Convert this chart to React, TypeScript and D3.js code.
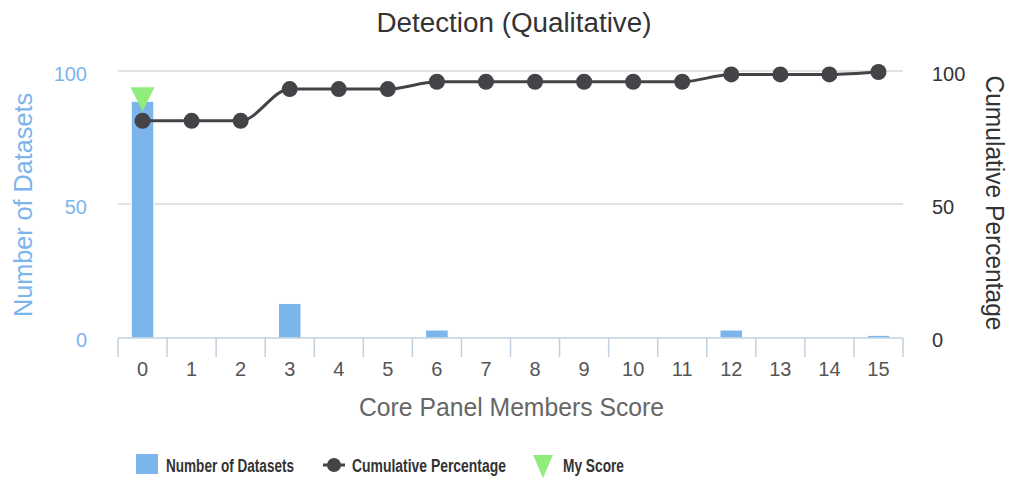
import React from 'react'
import * as d3 from 'd3'

const scores = ['0', '1', '2', '3', '4', '5', '6', '7', '8', '9', '10', '11', '12', '13', '14', '15']
const datasetCounts = [89, 0, 0, 13, 0, 0, 3, 0, 0, 0, 0, 0, 3, 0, 0, 1]
const myScore = '0'
const leftTicks = [0, 50, 100]
const rightTicks = [0, 50, 100]

const W = 1009
const H = 480
const margin = { top: 72, right: 106, bottom: 142, left: 118 }

export default function App() {
  const plotW = W - margin.left - margin.right
  const plotH = H - margin.top - margin.bottom

  const total = d3.sum(datasetCounts)
  // 累計百分比
  const cumulative: number[] = Array.from(d3.cumsum(datasetCounts), v => (v / total) * 100)

  const x = d3.scaleBand().domain(scores).range([0, plotW]).padding(0)
  const yLeft = d3.scaleLinear().domain([0, 100]).range([plotH, 0])
  const yRight = d3.scaleLinear().domain([0, 100]).range([plotH, 0])

  const barW = x.bandwidth() * 0.46
  const cx = (s: string) => x(s)! + x.bandwidth() / 2

  const line = d3
    .line<number>()
    .x((_, i) => cx(scores[i]))
    .y(d => yRight(d))
    .curve(d3.curveMonotoneX)

  const myIdx = scores.indexOf(myScore)
  const triY = yLeft(datasetCounts[myIdx]) - 2
  const tri = (cxv: number, cy: number, w: number, h: number) =>
    `M${cxv - w / 2},${cy - h / 2}L${cxv + w / 2},${cy - h / 2}L${cxv},${cy + h / 2}Z`

  const font = '"Liberation Sans", Arial, sans-serif'

  return (
    <svg width={W} height={H} style={{ position: 'absolute', left: 0, top: 0 }} fontFamily={font}>
      <rect width={W} height={H} fill="#fff" />
      <text x={514} y={32} textAnchor="middle" fontSize={27} fill="#333" textLength={275} lengthAdjust="spacingAndGlyphs">
        Detection (Qualitative)
      </text>

      <g transform={`translate(${margin.left},${margin.top})`}>
        {/* grid */}
        {leftTicks.filter(t => t > 0).map(t => (
          <line key={t} x1={0} x2={plotW} y1={yLeft(t) - 1} y2={yLeft(t) - 1} stroke="#d8d8d8" strokeWidth={1.5} />
        ))}

        {/* bars */}
        {scores.map((s, i) =>
          datasetCounts[i] > 0 ? (
            <rect
              key={s}
              x={cx(s) - barW / 2}
              y={yLeft(datasetCounts[i])}
              width={barW}
              height={plotH - yLeft(datasetCounts[i])}
              fill="#7cb5ec"
              stroke="#fff"
              strokeWidth={1}
            />
          ) : null
        )}

        {/* x axis */}
        <line x1={0} x2={plotW} y1={plotH} y2={plotH} stroke="#c0d0e0" strokeWidth={1.5} />
        {scores.map(s => (
          <line key={s} x1={x(s)!} x2={x(s)!} y1={plotH} y2={plotH + 19} stroke="#c0d0e0" strokeWidth={1.5} />
        ))}
        <line x1={plotW} x2={plotW} y1={plotH} y2={plotH + 19} stroke="#c0d0e0" strokeWidth={1.5} />
        {scores.map(s => (
          <text key={s} x={cx(s)} y={plotH + 38} textAnchor="middle" fontSize={20} fill="#555">
            {s}
          </text>
        ))}
        <text x={plotW / 2 + 1} y={plotH + 78} textAnchor="middle" fontSize={25} fill="#666" textLength={305} lengthAdjust="spacingAndGlyphs">
          Core Panel Members Score
        </text>

        {/* left axis */}
        {leftTicks.map(t => (
          <text key={t} x={-31} y={yLeft(t) + 9} textAnchor="end" fontSize={20} fill="#7cb5ec">
            {t}
          </text>
        ))}
        <text
          transform={`translate(${32 - margin.left},${205 - margin.top}) rotate(-90)`}
          textAnchor="middle"
          fontSize={25}
          fill="#7cb5ec"
          textLength={224}
          lengthAdjust="spacingAndGlyphs"
        >
          Number of Datasets
        </text>

        {/* right axis */}
        {rightTicks.map(t => (
          <text key={t} x={plotW + 29} y={yRight(t) + 9} textAnchor="start" fontSize={20} fill="#333">
            {t}
          </text>
        ))}
        <text
          transform={`translate(${986 - margin.left},${203 - margin.top}) rotate(90)`}
          textAnchor="middle"
          fontSize={25}
          fill="#333"
          textLength={255}
          lengthAdjust="spacingAndGlyphs"
        >
          Cumulative Percentage
        </text>

        {/* cumulative line */}
        <path d={line(cumulative)!} fill="none" stroke="#434348" strokeWidth={3} />
        {cumulative.map((v, i) => (
          <circle key={i} cx={cx(scores[i])} cy={yRight(v)} r={8} fill="#434348" />
        ))}

        {/* my score marker */}
        <path d={tri(cx(myScore), triY, 24, 24)} fill="#90ed7d" />
      </g>

      {/* legend */}
      <g fontSize={18} fontWeight="bold" fill="#333">
        <rect x={136} y={454} width={22} height={20} fill="#7cb5ec" />
        <text x={166} y={472} textLength={128} lengthAdjust="spacingAndGlyphs">Number of Datasets</text>
        <line x1={323} x2={345} y1={465} y2={465} stroke="#434348" strokeWidth={3} />
        <circle cx={334} cy={465} r={7} fill="#434348" />
        <text x={352} y={472} textLength={154} lengthAdjust="spacingAndGlyphs">Cumulative Percentage</text>
        <path d="M533,455L553,455L543,478Z" fill="#90ed7d" />
        <text x={563} y={472} textLength={61} lengthAdjust="spacingAndGlyphs">My Score</text>
      </g>
    </svg>
  )
}
